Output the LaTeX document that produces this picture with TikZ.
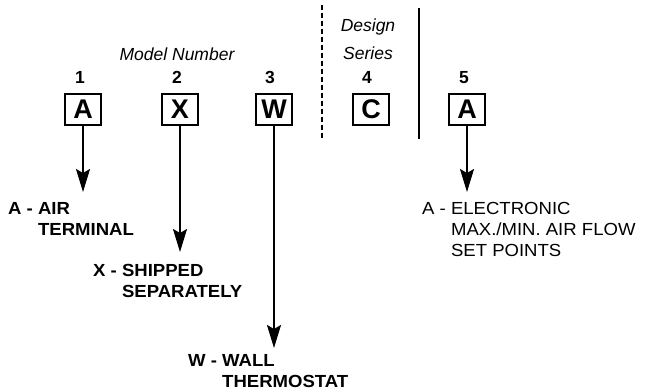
\documentclass[tikz,border=0pt]{standalone}
\usepackage{fontspec}
\setmainfont{Liberation Sans}
\newfontfamily\widefont{Liberation Sans}[FakeStretch=1.06]
\usetikzlibrary{arrows.meta}
\newcommand{\lblfont}{\fontsize{17.5}{21}\selectfont}
\tikzset{
  codebox/.style={draw, line width=1.8pt, minimum width=36pt, minimum height=31pt, inner sep=0pt, font=\fontsize{27}{30}\selectfont\bfseries},
  digit/.style={anchor=base, inner sep=0pt, font=\lblfont\bfseries},
  caption/.style={anchor=base, inner sep=0pt, font=\lblfont\itshape},
  desc/.style={anchor=base west, inner sep=0pt, font=\widefont\lblfont\bfseries},
  descr/.style={anchor=base west, inner sep=0pt, font=\widefont\lblfont},
  pointer/.style={line width=1.8pt, -{Stealth[length=23pt, width=14pt, inset=4pt]}},
  divider/.style={line width=2pt}
}
\begin{document}
\begin{tikzpicture}[x=1pt, y=-1pt]
\useasboundingbox (0,0) rectangle (649,390);
% captions
\node[caption] (model) at (177,61) {Model Number};
\node[caption] (design) at (368,32) {Design};
\node[caption] (series) at (368,60) {Series};
% digits
\node[digit] (n1) at (80,84) {1};
\node[digit] (n2) at (177,84) {2};
\node[digit] (n3) at (270,84) {3};
\node[digit] (n4) at (367,84) {4};
\node[digit] (n5) at (464,84) {5};
% boxes
\node[codebox] (b1) at (83,109.5) {A};
\node[codebox] (b2) at (180,109.5) {X};
\node[codebox] (b3) at (274,109.5) {W};
\node[codebox] (b4) at (371,109.5) {C};
\node[codebox] (b5) at (467,109.5) {A};
% dividers
\coordinate (d1) at (322,5);
\coordinate (d2) at (322,138);
\coordinate (s1) at (419,8);
\coordinate (s2) at (419,139);
\draw[divider, dash pattern=on 5.5pt off 2.5pt] (d1) -- (d2);
\draw[divider] (s1) -- (s2);
% arrow tips
\coordinate (t1) at (83,192);
\coordinate (t2) at (180,252);
\coordinate (t3) at (274,348);
\coordinate (t5) at (467,192);
\draw[pointer] (b1.south) -- (t1);
\draw[pointer] (b2.south) -- (t2);
\draw[pointer] (b3.south) -- (t3);
\draw[pointer] (b5.south) -- (t5);
% descriptions
\node[desc] (l1) at (8,215) {\begin{tabular}[t]{@{}l@{}l@{}}A - \mbox{}&AIR\\ &TERMINAL\end{tabular}};
\node[desc] (l2) at (93,277) {\begin{tabular}[t]{@{}l@{}l@{}}X - \mbox{}&SHIPPED\\ &SEPARATELY\end{tabular}};
\node[desc] (l3) at (188,366.5) {\begin{tabular}[t]{@{}l@{}l@{}}W - \mbox{}&WALL\\ &THERMOSTAT\end{tabular}};
\node[descr] (l5) at (422,215) {\begin{tabular}[t]{@{}l@{}l@{}}A - \mbox{}&ELECTRONIC\\ &MAX./MIN. AIR FLOW\\ &SET POINTS\end{tabular}};
\end{tikzpicture}
\end{document}
